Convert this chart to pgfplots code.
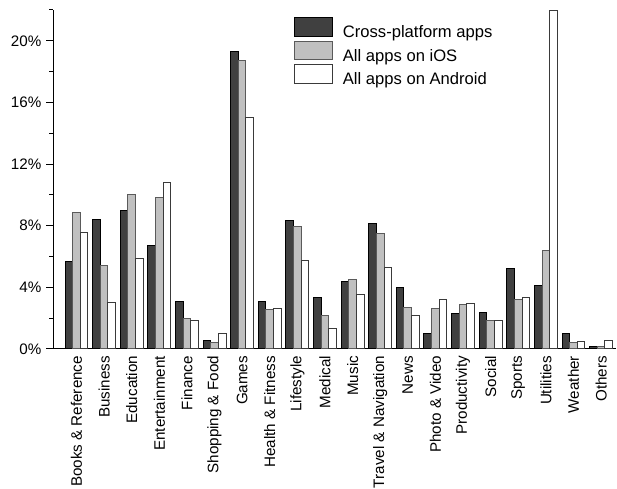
\documentclass[border=0pt]{standalone}
\usepackage{pgfplots}
\pgfplotsset{compat=1.18}
\usepackage{fontspec}
\setmainfont{Liberation Sans}
\definecolor{darkbar}{HTML}{404040}
\definecolor{graybar}{HTML}{C0C0C0}
\definecolor{grayedge}{HTML}{5A5A5A}
\definecolor{whiteedge}{HTML}{3A3A3A}
\begin{document}
\begin{tikzpicture}
\begin{axis}[
  width=562.5bp, height=338.8bp, scale only axis,
  xmin=-0.833, xmax=19.54, ymin=0, ymax=22,
  axis lines*=left,
  axis line style={line width=1.1bp, black},
  x axis line style={shorten <=-6.5bp},
  /pgf/number format/assume math mode=true,
  tick align=outside,
  major tick length=7bp, minor tick length=4bp,
  ytick={0,4,8,12,16,20},
  minor ytick={2,6,10,14,18,22},
  yticklabel={\pgfmathprintnumber{\tick}\%},
  y tick style={line width=1bp, black},
  minor y tick style={line width=1bp, black},
  xtick={0,...,19},
  xtick style={draw=none},
  xticklabels={Books \& Reference, Business, Education, Entertainment, Finance, Shopping \& Food, Games, Health \& Fitness, Lifestyle, Medical, Music, Travel \& Navigation, News, Photo \& Video, Productivity, Social, Sports, Utilities, Weather, Others},
  tick label style={font=\fontsize{15.2bp}{17bp}\selectfont},
  x tick label style={rotate=90, anchor=east, inner sep=0pt},
  y tick label style={inner sep=0pt, xshift=-5bp},
  bar width=0.277,
  legend style={draw=none, fill=none, inner sep=0pt, at={(0.4276,1)}, anchor=north west, yshift=-7.3bp,
    font=\fontsize{16.6bp}{19bp}\selectfont, column sep=9.7bp, row sep=0.5bp,
    nodes={inner sep=0pt, text height=12bp, text depth=3bp}},
  legend cell align=left,
  legend image code/.code={\draw[#1, line width=1bp] (0bp,-3bp) rectangle (38bp,15bp);},
  clip=true,
]
\addplot[ybar, bar shift=-0.277, fill=darkbar, draw=black, line width=1bp] coordinates {
(0,5.70) (1,8.41) (2,9.01) (3,6.70) (4,3.04) (5,0.51) (6,19.29) (7,3.08) (8,8.30) (9,3.32) (10,4.40) (11,8.15) (12,3.99) (13,1.00) (14,2.30) (15,2.37) (16,5.20) (17,4.10) (18,0.98) (19,0.18)};
\addplot[ybar, bar shift=0, fill=graybar, draw=grayedge, line width=1bp] coordinates {
(0,8.84) (1,5.40) (2,10.03) (3,9.84) (4,1.96) (5,0.40) (6,18.71) (7,2.58) (8,7.97) (9,2.13) (10,4.49) (11,7.48) (12,2.69) (13,2.61) (14,2.89) (15,1.83) (16,3.21) (17,6.37) (18,0.42) (19,0.18)};
\addplot[ybar, bar shift=0.277, fill=white, draw=whiteedge, line width=1bp] coordinates {
(0,7.56) (1,2.99) (2,5.85) (3,10.83) (4,1.85) (5,0.98) (6,15.00) (7,2.60) (8,5.72) (9,1.29) (10,3.54) (11,5.25) (12,2.19) (13,3.21) (14,2.95) (15,1.83) (16,3.32) (17,21.95) (18,0.46) (19,0.53)};
\legend{Cross-platform apps, All apps on iOS, All apps on Android}
\coordinate (ll) at (rel axis cs:0,0);
\coordinate (ur) at (rel axis cs:1,1);
\end{axis}
\path ([shift={(-53.5bp,-140.2bp)}]ll) rectangle ([shift={(1bp,10bp)}]ur);
\end{tikzpicture}
\end{document}
